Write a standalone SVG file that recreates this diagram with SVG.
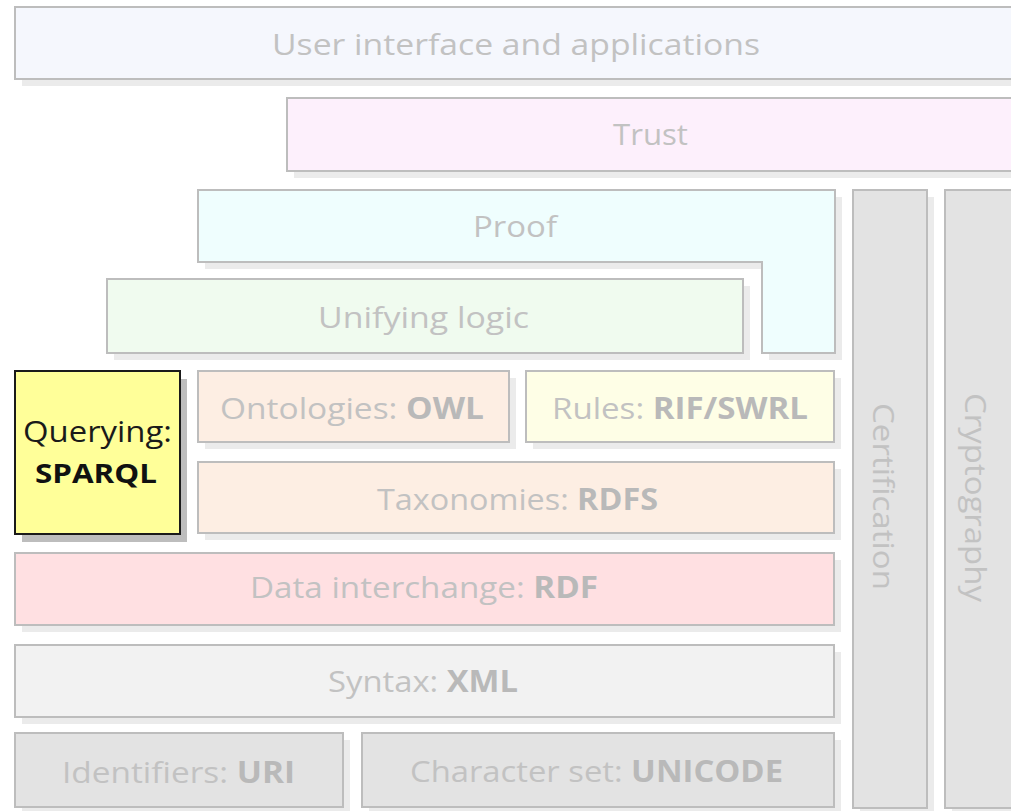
<svg xmlns="http://www.w3.org/2000/svg" width="1011" height="811" viewBox="0 0 1011 811">
<style>
.sh{fill:#ebebeb}
.bx{stroke:#bdbdbd;stroke-width:2}
.t{font-family:"Open Sans","Noto Sans",sans-serif;font-size:30px;fill:#c2c2c2}
.b{font-weight:bold;fill:#b9b9b9}
</style>
<rect width="1011" height="811" fill="#ffffff"/>
<g id="ui">
<rect class="sh" x="22" y="14" width="1000" height="72"/>
<rect class="bx" x="15" y="7" width="1010" height="72" fill="#f5f7fd"/>
<text class="t" x="272" y="55" textLength="488" lengthAdjust="spacingAndGlyphs">User interface and applications</text>
</g>
<g id="trust">
<rect class="sh" x="294" y="105" width="730" height="73"/>
<rect class="bx" x="287" y="98" width="740" height="73" fill="#fdf0fc"/>
<text class="t" x="613" y="145" textLength="75" lengthAdjust="spacingAndGlyphs">Trust</text>
</g>
<g id="proof">
<polygon class="sh" points="205,197 842,197 842,360 769,360 769,269 205,269"/>
<polygon class="bx" points="198,190 835,190 835,353 762,353 762,262 198,262" fill="#effefe"/>
<text class="t" x="473" y="237" textLength="84" lengthAdjust="spacingAndGlyphs">Proof</text>
</g>
<g id="logic">
<rect class="sh" x="114" y="286" width="636" height="74"/>
<rect class="bx" x="107" y="279" width="636" height="74" fill="#f0fbef"/>
<text class="t" x="318" y="328" textLength="211" lengthAdjust="spacingAndGlyphs">Unifying logic</text>
</g>
<g id="sparql">
<rect x="22" y="379" width="165" height="163" fill="#bdbdbd"/>
<rect x="15" y="371" width="165" height="163" fill="#ffff99" stroke="#1a1a1a" stroke-width="2"/>
<text x="23" y="442" textLength="149" lengthAdjust="spacingAndGlyphs" style="font-family:'Open Sans','Noto Sans',sans-serif;font-size:30px;fill:#1a1a1a">Querying:</text>
<text x="35" y="483" textLength="122" lengthAdjust="spacingAndGlyphs" style="font-family:'Open Sans','Noto Sans',sans-serif;font-size:26px;font-weight:bold;fill:#111">SPARQL</text>
</g>
<g id="owl">
<rect class="sh" x="205" y="378" width="311" height="71"/>
<rect class="bx" x="198" y="371" width="311" height="71" fill="#fdeee3"/>
<text class="t" x="220" y="419" textLength="264" lengthAdjust="spacingAndGlyphs">Ontologies: <tspan class="b">OWL</tspan></text>
</g>
<g id="rules">
<rect class="sh" x="533" y="378" width="308" height="71"/>
<rect class="bx" x="526" y="371" width="308" height="71" fill="#fefee6"/>
<text class="t" x="552" y="419" textLength="256" lengthAdjust="spacingAndGlyphs">Rules: <tspan class="b">RIF/SWRL</tspan></text>
</g>
<g id="rdfs">
<rect class="sh" x="205" y="469" width="636" height="71"/>
<rect class="bx" x="198" y="462" width="636" height="71" fill="#fdeee3"/>
<text class="t" x="377" y="510" textLength="281" lengthAdjust="spacingAndGlyphs">Taxonomies: <tspan class="b">RDFS</tspan></text>
</g>
<g id="rdf">
<rect class="sh" x="22" y="560" width="819" height="72"/>
<rect class="bx" x="15" y="553" width="819" height="72" fill="#ffe0e2"/>
<text class="t" x="250" y="598" textLength="348" lengthAdjust="spacingAndGlyphs">Data interchange: <tspan class="b">RDF</tspan></text>
</g>
<g id="xml">
<rect class="sh" x="22" y="652" width="819" height="72"/>
<rect class="bx" x="15" y="645" width="819" height="72" fill="#f2f2f2"/>
<text class="t" x="328" y="692" textLength="190" lengthAdjust="spacingAndGlyphs">Syntax: <tspan class="b">XML</tspan></text>
</g>
<g id="uri">
<rect class="sh" x="22" y="740" width="328" height="74"/>
<rect class="bx" x="15" y="733" width="328" height="74" fill="#e3e3e3"/>
<text class="t" x="62" y="783" textLength="233" lengthAdjust="spacingAndGlyphs">Identifiers: <tspan class="b">URI</tspan></text>
</g>
<g id="unicode">
<rect class="sh" x="369" y="740" width="472" height="74"/>
<rect class="bx" x="362" y="733" width="472" height="74" fill="#e3e3e3"/>
<text class="t" x="410" y="782" textLength="373" lengthAdjust="spacingAndGlyphs">Character set: <tspan class="b">UNICODE</tspan></text>
</g>
<g id="cert">
<rect class="sh" x="860" y="197" width="74" height="620"/>
<rect class="bx" x="853" y="190" width="74" height="618" fill="#e3e3e3"/>
<text class="t" transform="translate(873,403) rotate(90)" x="0" y="0" textLength="187" lengthAdjust="spacingAndGlyphs">Certification</text>
</g>
<g id="crypto">
<rect class="sh" x="952" y="197" width="80" height="620"/>
<rect class="bx" x="945" y="190" width="80" height="618" fill="#e3e3e3"/>
<text class="t" transform="translate(965,393) rotate(90)" x="0" y="0" textLength="209" lengthAdjust="spacingAndGlyphs">Cryptography</text>
</g>
<g id="connectors"/>
</svg>
